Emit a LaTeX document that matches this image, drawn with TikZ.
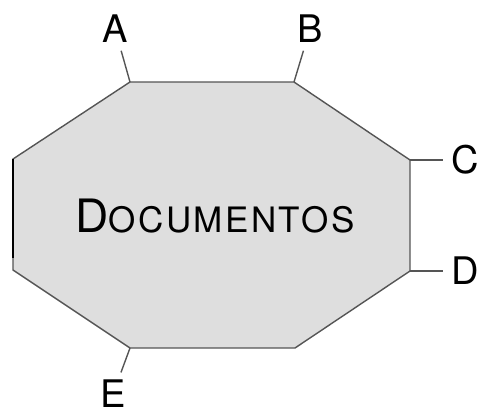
\documentclass[tikz,border=0pt]{standalone}
\usepackage{fontspec}
\setmainfont{TeX Gyre Heros}
\definecolor{octfill}{HTML}{DEDEDE}
\definecolor{octline}{HTML}{555555}
\tikzset{
  edge/.style={draw=octline, line width=1.4pt},
  tag/.style={inner sep=0pt, font=\fontsize{38}{38}\selectfont},
  lead/.style={edge, shorten >=8pt},
}
\begin{document}
\begin{tikzpicture}[x=1pt, y=-1pt]
\useasboundingbox (0,0) rectangle (478,415);
% corners of the octagon
\coordinate (vA) at (130,82);
\coordinate (vB) at (294,82);
\coordinate (vC) at (410,160);
\coordinate (vD) at (410,271);
\coordinate (vR) at (295,348);
\coordinate (vE) at (130,348);
\coordinate (vL) at (13,270);
\coordinate (vT) at (13,159);
\filldraw[fill=octfill, edge] (vA) -- (vB) -- (vC) -- (vD) -- (vR) -- (vE)
  -- (vL) -- (vT) -- cycle;
\draw[line width=2.6pt] (vT) -- (13,258); % dark part of left side

% title
\node[anchor=base, inner sep=0] (doc) at (215,232)
  {\addfontfeature{LetterSpace=7}{\fontsize{46}{46}\selectfont D}%
   {\fontsize{35}{35}\selectfont OCUMENTOS}};

% letters
\node[tag] (A) at (115,29) {A};
\node[tag] (B) at (310,29) {B};
\node[tag] (C) at (465,160) {C};
\node[tag] (D) at (465,271) {D};
\node[tag] (E) at (113,394) {E};
\draw[lead] (vA) -- (A);
\draw[lead] (vB) -- (B);
\draw[lead] (vC) -- (C);
\draw[lead] (vD) -- (D);
\draw[lead] (vE) -- (E);
\end{tikzpicture}
\end{document}
